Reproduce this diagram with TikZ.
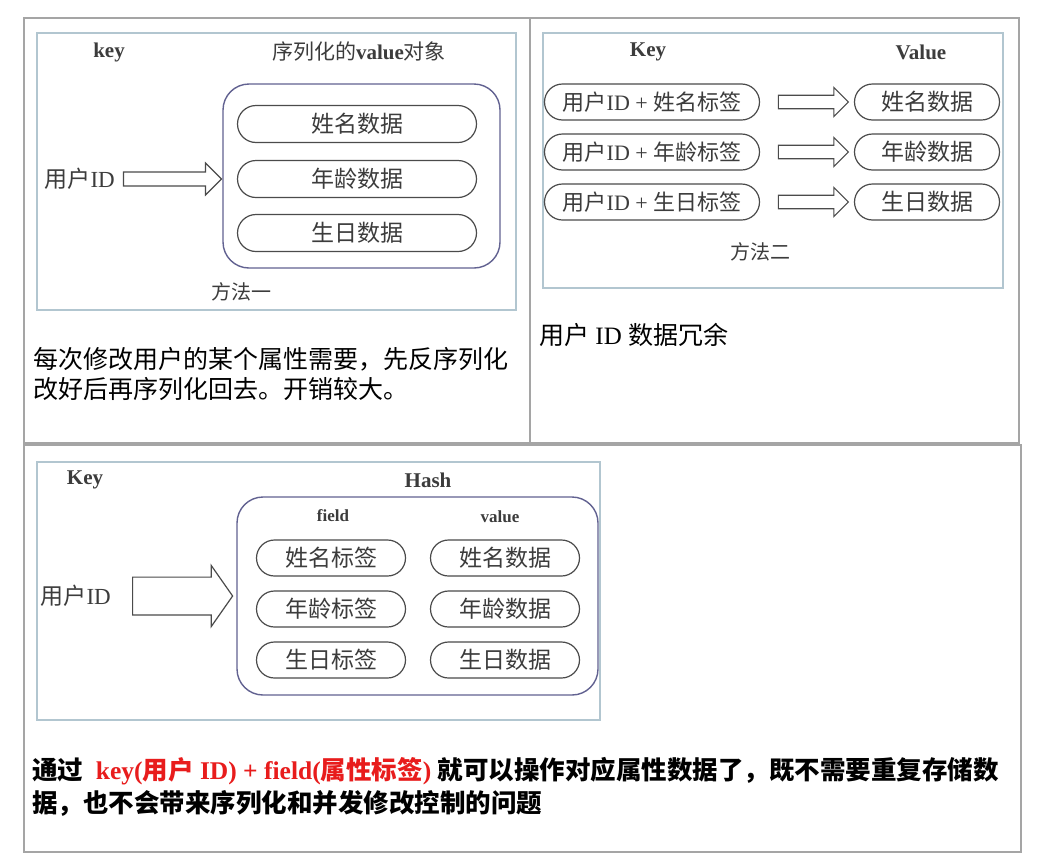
\documentclass[tikz,border=0pt]{standalone}
\usepackage{fontspec}
\setmainfont{Liberation Serif}
\newfontfamily\cjk{Noto Sans CJK SC}
\usepackage{tikz}
\usetikzlibrary{positioning,arrows.meta,shapes.misc,shapes.arrows}
\usepackage{xcolor}
\definecolor{FrameGray}{RGB}{165,165,165}
\definecolor{PanelBlue}{RGB}{178,198,208}
\definecolor{HashPurple}{RGB}{98,98,145}
\definecolor{PillGray}{RGB}{75,75,75}
\definecolor{InkGray}{RGB}{60,60,60}
\definecolor{NoteRed}{RGB}{232,28,28}
\newcommand{\zh}[1]{{\cjk #1}}

\begin{document}
\begin{tikzpicture}[
    x=1pt, y=-1pt,
    every node/.style={inner sep=0pt, text=InkGray},
    frame/.style={draw=FrameGray, line width=2pt},
    panel/.style={draw=PanelBlue, line width=1.6pt},
    hashbox/.style={draw=HashPurple, line width=1.4pt, rounded corners=26pt},
    pill/.style={draw=PillGray, line width=1.2pt, rounded rectangle, minimum height=37pt, font=\fontsize{23}{26}\selectfont},
    head/.style={font=\bfseries\fontsize{21}{24}\selectfont},
    plaintext/.style={font=\fontsize{23}{26}\selectfont},
    fatarrow/.style={draw=PillGray, line width=1.2pt, single arrow, single arrow head indent=0pt, inner xsep=0pt},
    note/.style={text=black, anchor=west, align=left},
]
\useasboundingbox[fill=white] (0,0) rectangle (1043,865);

% outer table
\draw[frame] (24,18) rectangle (1019,443);
\draw[frame] (530,18) -- (530,443);
\draw[frame] (24,445) rectangle (1021,852);

% method one
\draw[panel] (37,33) rectangle (516,310);
\node[head] (key1) at (109,52) {key};
\node[head] (val1) at (359,52) {\zh{\mdseries 序列化的}value\zh{\mdseries 对象}};
\draw[hashbox] (223,84) rectangle (500,268);
\node[pill, minimum width=239pt] (name1) at (357,124) {\zh{姓名数据}};
\node[pill, minimum width=239pt] (age1) at (357,179) {\zh{年龄数据}};
\node[pill, minimum width=239pt] (birth1) at (357,233) {\zh{生日数据}};
\node[plaintext, anchor=east] (uid1) at (115,179) {\zh{用户}ID};
\node[fatarrow, minimum height=98pt, minimum width=32pt, inner ysep=5pt] (arr1) at (169,179) {};
\node[plaintext, font=\fontsize{20}{24}\selectfont] (m1) at (241,292) {\zh{方法一}};

% method two
\draw[panel] (543,33) rectangle (1003,288);
\node[head] (key2) at (648,52) {Key};
\node[head] (val2) at (921,52) {Value};
\node[pill, minimum width=215pt, minimum height=36pt, font=\fontsize{22}{26}\selectfont] (kname2) at (652,102) {\zh{用户}ID + \zh{姓名标签}};
\node[pill, minimum width=215pt, minimum height=36pt, font=\fontsize{22}{26}\selectfont] (kage2) at (652,152) {\zh{用户}ID + \zh{年龄标签}};
\node[pill, minimum width=215pt, minimum height=36pt, font=\fontsize{22}{26}\selectfont] (kbirth2) at (652,202) {\zh{用户}ID + \zh{生日标签}};
\node[fatarrow, minimum height=70pt, minimum width=29pt, inner ysep=5.5pt] (arr2a) at (810,102) {};
\node[fatarrow, minimum height=70pt, minimum width=29pt, inner ysep=5.5pt] (arr2b) at (810,152) {};
\node[fatarrow, minimum height=70pt, minimum width=29pt, inner ysep=5.5pt] (arr2c) at (810,202) {};
\node[pill, minimum width=145pt, minimum height=36pt] (vname2) at (927,102) {\zh{姓名数据}};
\node[pill, minimum width=145pt, minimum height=36pt] (vage2) at (927,152) {\zh{年龄数据}};
\node[pill, minimum width=145pt, minimum height=36pt] (vbirth2) at (927,202) {\zh{生日数据}};
\node[plaintext, font=\fontsize{20}{24}\selectfont] (m2) at (760,252) {\zh{方法二}};

% notes under the two methods
\node[note, font=\cjk\fontsize{25}{30}\selectfont] (note1) at (33,374) {每次修改用户的某个属性需要，先反序列化\\改好后再序列化回去。开销较大。};
\node[note, font=\fontsize{25}{30}\selectfont] (note2) at (539,335) {\zh{用户} ID \zh{数据冗余}};

% hash
\draw[panel] (37,462) rectangle (600,720);
\node[head] (key3) at (85,480) {Key};
\node[head] (hash3) at (428,480) {Hash};
\draw[hashbox] (237,497) rectangle (598,695);
\node[head, font=\bfseries\fontsize{17}{20}\selectfont] (field3) at (333,516) {field};
\node[head, font=\bfseries\fontsize{17}{20}\selectfont] (value3) at (500,517) {value};
\node[pill, minimum width=149pt, minimum height=36pt] (fname3) at (331,558) {\zh{姓名标签}};
\node[pill, minimum width=149pt, minimum height=36pt] (fage3) at (331,609) {\zh{年龄标签}};
\node[pill, minimum width=149pt, minimum height=36pt] (fbirth3) at (331,660) {\zh{生日标签}};
\node[pill, minimum width=149pt, minimum height=36pt] (vname3) at (505,558) {\zh{姓名数据}};
\node[pill, minimum width=149pt, minimum height=36pt] (vage3) at (505,609) {\zh{年龄数据}};
\node[pill, minimum width=149pt, minimum height=36pt] (vbirth3) at (505,660) {\zh{生日数据}};
\node[plaintext, anchor=east] (uid3) at (111,596) {\zh{用户}ID};
\node[fatarrow, minimum height=100pt, minimum width=61pt, inner ysep=11pt, single arrow tip angle=110] (arr3) at (176,596) {};

% conclusion
\node[note, font=\bfseries\fontsize{25.5}{33}\selectfont] (note3) at (32,787)
  {\zh{通过}\ \ \textcolor{NoteRed}{key(\zh{用户} ID) + field(\zh{属性标签})} \zh{就可以操作对应属性数据了，既不需要重复存储数}\\
   \zh{据，也不会带来序列化和并发修改控制的问题}};
\end{tikzpicture}
\end{document}
